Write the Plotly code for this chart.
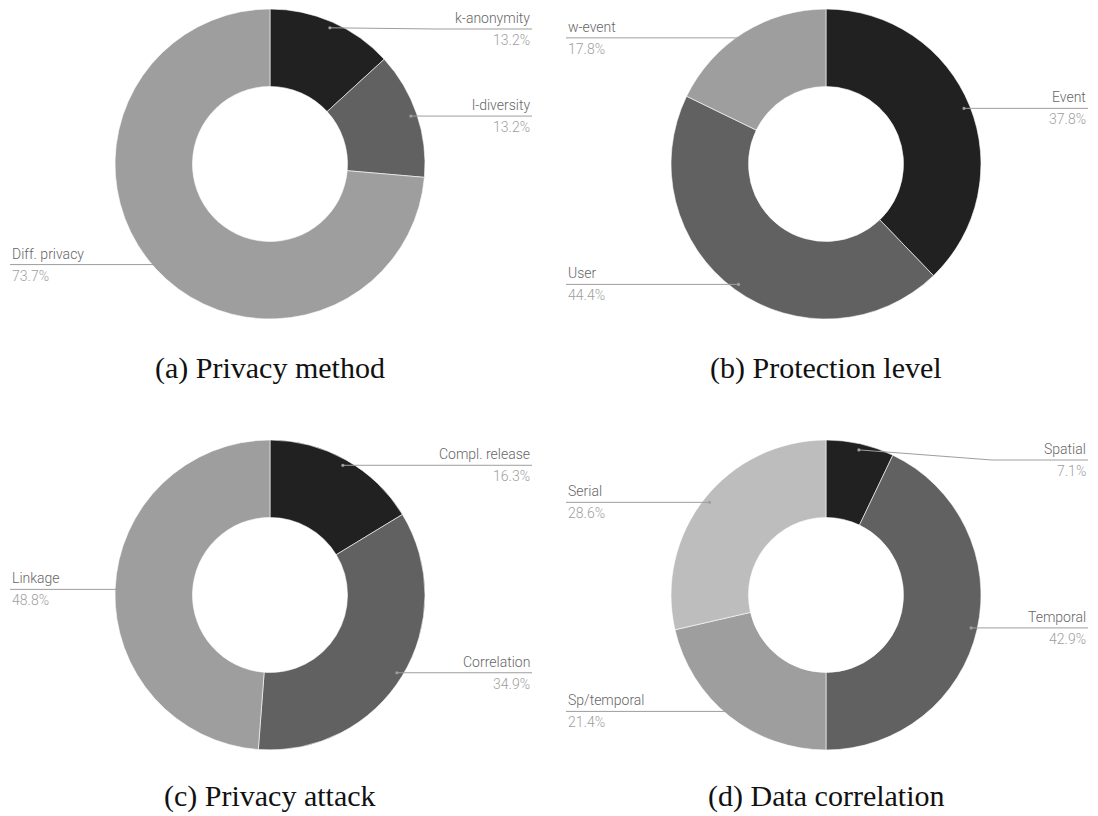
import math
import plotly.graph_objects as go

# ---------------- data ----------------
a_labels = ["k-anonymity", "l-diversity", "Diff. privacy"]
a_values = [13.2, 13.2, 73.7]
b_labels = ["Event", "User", "w-event"]
b_values = [37.8, 44.4, 17.8]
c_labels = ["Compl. release", "Correlation", "Linkage"]
c_values = [16.3, 34.9, 48.8]
d_labels = ["Spatial", "Temporal", "Sp/temporal", "Serial"]
d_values = [7.1, 42.9, 21.4, 28.6]
captions = ["(a) Privacy method", "(b) Protection level", "(c) Privacy attack", "(d) Data correlation"]

# ---------------- style / layout ----------------
W, H = 1098, 816
R = 155
HOLE = 0.5
GREYS = ["#212121", "#616161", "#9e9e9e", "#bdbdbd"]
LINE_C = "#9e9e9e"
LABEL_C = "#666666"
PCT_C = "#9e9e9e"
panels = [
    dict(labels=a_labels, values=a_values, cx=270, cy=164, cap_y=368),
    dict(labels=b_labels, values=b_values, cx=826, cy=164, cap_y=368),
    dict(labels=c_labels, values=c_values, cx=270, cy=595, cap_y=796),
    dict(labels=d_labels, values=d_values, cx=826, cy=595, cap_y=796),
]

fig = go.Figure()
shapes = []
annotations = []

for i, p in enumerate(panels):
    cx, cy = p["cx"], p["cy"]
    fig.add_trace(go.Pie(
        labels=p["labels"], values=p["values"], hole=HOLE, sort=False,
        direction="clockwise", rotation=0,
        marker=dict(colors=GREYS[:len(p["values"])], line=dict(color="white", width=0.6)),
        textinfo="none", hoverinfo="label+percent", showlegend=False,
        domain=dict(x=[(cx - R) / W, (cx + R) / W], y=[(H - cy - R) / H, (H - cy + R) / H]),
    ))
    total = sum(p["values"])
    cum = 0.0
    for lab, v in zip(p["labels"], p["values"]):
        mid = (cum + v / 2) / total * 2 * math.pi
        cum += v
        ax = cx + 0.96 * R * math.sin(mid)
        ay = cy - 0.96 * R * math.cos(mid)
        ly = max(ay, cy - R + 20)
        right = math.sin(mid) >= 0
        end = cx + 262 if right else cx - 260
        if abs(ly - ay) > 0.5:
            knee = end - 96 if right else end + 96
            path = f"M {ax} {ay} L {knee} {ly} L {end} {ly}"
        else:
            path = f"M {ax} {ay} L {end} {ly}"
        shapes.append(dict(type="path", path=path, xref="x", yref="y",
                           line=dict(color=LINE_C, width=1)))
        shapes.append(dict(type="circle", xref="x", yref="y",
                           x0=ax - 1.6, x1=ax + 1.6, y0=ay - 1.6, y1=ay + 1.6,
                           fillcolor=LINE_C, line=dict(width=0)))
        pct = f"{v:.1f}%"
        xa = "right" if right else "left"
        annotations.append(dict(x=end, y=ly - 1, xref="x", yref="y", text=lab,
                                showarrow=False, xanchor=xa, yanchor="bottom",
                                font=dict(family="Roboto", size=14, weight=300, color=LABEL_C)))
        annotations.append(dict(x=end, y=ly + 1, xref="x", yref="y", text=pct,
                                showarrow=False, xanchor=xa, yanchor="top",
                                font=dict(family="Roboto", size=14, weight=300, color=PCT_C)))
    annotations.append(dict(x=cx, y=p["cap_y"], xref="x", yref="y", text=captions[i],
                            showarrow=False, xanchor="center", yanchor="middle",
                            font=dict(family="Liberation Serif, DejaVu Serif, serif", size=30, color="#111111")))

fig.update_layout(
    width=W, height=H, margin=dict(l=0, r=0, t=0, b=0),
    paper_bgcolor="white", plot_bgcolor="rgba(0,0,0,0)",
    xaxis=dict(range=[0, W], visible=False, fixedrange=True, domain=[0, 1]),
    yaxis=dict(range=[H, 0], visible=False, fixedrange=True, domain=[0, 1]),
    shapes=shapes, annotations=annotations,
)
fig.write_html("out.html", config={"displayModeBar": False},
               post_script="document.body.style.margin='0';document.body.style.overflow='hidden';")
